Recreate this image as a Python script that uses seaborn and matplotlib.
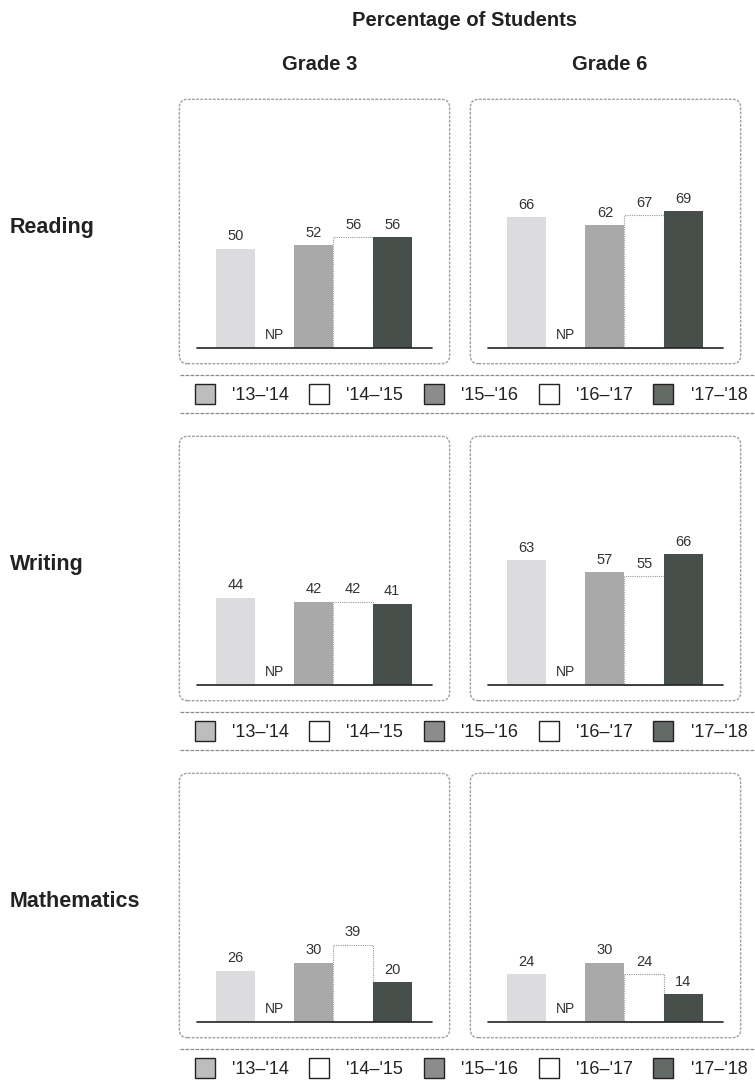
import pandas as pd
import numpy as np
import matplotlib
matplotlib.use('Agg')
import matplotlib.pyplot as plt
from matplotlib.patches import FancyBboxPatch, Patch
from matplotlib.lines import Line2D
import seaborn as sns

# data (None = NP, not participating)
seasons = ["'13–'14", "'14–'15", "'15–'16", "'16–'17", "'17–'18"]
subjects = ["Reading", "Writing", "Mathematics"]
grades = ["Grade 3", "Grade 6"]

reading_g3 = [50, None, 52, 56, 56]
reading_g6 = [66, None, 62, 67, 69]
writing_g3 = [44, None, 42, 42, 41]
writing_g6 = [63, None, 57, 55, 66]
math_g3 = [26, None, 30, 39, 20]
math_g6 = [24, None, 30, 24, 14]

panel_values = {
    ("Reading", "Grade 3"): reading_g3, ("Reading", "Grade 6"): reading_g6,
    ("Writing", "Grade 3"): writing_g3, ("Writing", "Grade 6"): writing_g6,
    ("Mathematics", "Grade 3"): math_g3, ("Mathematics", "Grade 6"): math_g6,
}

bar_colors = {"'13–'14": "#dcdcdf", "'14–'15": "#ffffff", "'15–'16": "#a9a9a9",
              "'16–'17": "#ffffff", "'17–'18": "#45504a"}
legend_colors = ["#bdbdbd", "#ffffff", "#8c8c8c", "#ffffff", "#626b65"]

sns.set_theme(style="white")
plt.rcParams['font.family'] = ['Liberation Sans', 'DejaVu Sans']

W, H = 755, 1082
fig = plt.figure(figsize=(W / 100, H / 100), dpi=100)

col_x = {"Grade 3": 178, "Grade 6": 469}
grade_title_x = {"Grade 3": 320, "Grade 6": 610}
row_y = {"Reading": 98, "Writing": 435, "Mathematics": 772}
box_w, box_h = 273, 267

for subj in subjects:
    for gr in grades:
        x0, y0 = col_x[gr], row_y[subj]
        ax = fig.add_axes([x0 / W, 1 - (y0 + box_h) / H, box_w / W, box_h / H])
        vals = panel_values[(subj, gr)]
        df = pd.DataFrame({"season": seasons, "pct": vals}).dropna()
        sns.barplot(data=df, x="season", y="pct", hue="season", order=seasons,
                    hue_order=seasons, palette=bar_colors, width=1.0,
                    linewidth=0, legend=False, ax=ax)
        # white bars get a faint dotted outline
        for p in ax.patches:
            if np.allclose(p.get_facecolor()[:3], (1, 1, 1)):
                p.set_edgecolor("#9a9a9a")
                p.set_linestyle((0, (1, 1)))
                p.set_linewidth(0.8)
        for s, v in zip(seasons, vals):
            i = seasons.index(s)
            if v is None:
                ax.text(i, 3, "NP", ha="center", va="bottom", fontsize=10, color="#333333")
            else:
                ax.annotate(f"{v:g}", (i, v), xytext=(0, 4), textcoords="offset points",
                            ha="center", va="bottom", fontsize=10.5, color="#333333")
        ax.set_xlim(-1.47, 5.5)
        ax.set_ylim(-8.6, 126.3)
        ax.plot([-0.98, 5.02], [0, 0], color="#222222", lw=1.2, clip_on=False)
        ax.axis("off")
        box = FancyBboxPatch((0.005, 0.005), 0.99, 0.99, boxstyle="round,pad=0,rounding_size=0.03",
                             transform=ax.transAxes, facecolor="none", edgecolor="#a0a0a0",
                             lw=1.0, linestyle=(0, (2, 1)), clip_on=False)
        ax.add_patch(box)

    # row label
    fig.text(10 / W, 1 - (row_y[subj] + box_h / 2 - 4) / H, subj, ha="left", va="center",
             fontsize=15.5, fontweight="bold", color="#222222")

    # legend strip below each row
    ly_top = row_y[subj] + box_h + 10
    ly_bot = ly_top + 38
    for ly in (ly_top, ly_bot):
        fig.add_artist(Line2D([180 / W, 1.0], [1 - ly / H, 1 - ly / H], color="#8c8c8c",
                              lw=0.9, linestyle=(0, (3, 1))))
    handles = [Patch(facecolor=c, edgecolor="#222222", lw=1.0) for c in legend_colors]
    fig.legend(handles, seasons, loc="center", ncol=5, frameon=False,
               bbox_to_anchor=(471 / W, 1 - (ly_top + 19) / H),
               fontsize=13, handlelength=1.1, handleheight=1.4, handletextpad=0.95,
               columnspacing=1.15, labelcolor="#222222")

fig.text(465 / W, 1 - 21 / H, "Percentage of Students", ha="center", va="center",
         fontsize=14.5, fontweight="bold", color="#222222")
for gr in grades:
    fig.text(grade_title_x[gr] / W, 1 - 65 / H, gr, ha="center", va="center",
             fontsize=14.5, fontweight="bold", color="#222222")

fig.savefig("out.png", dpi=100, facecolor="white")
